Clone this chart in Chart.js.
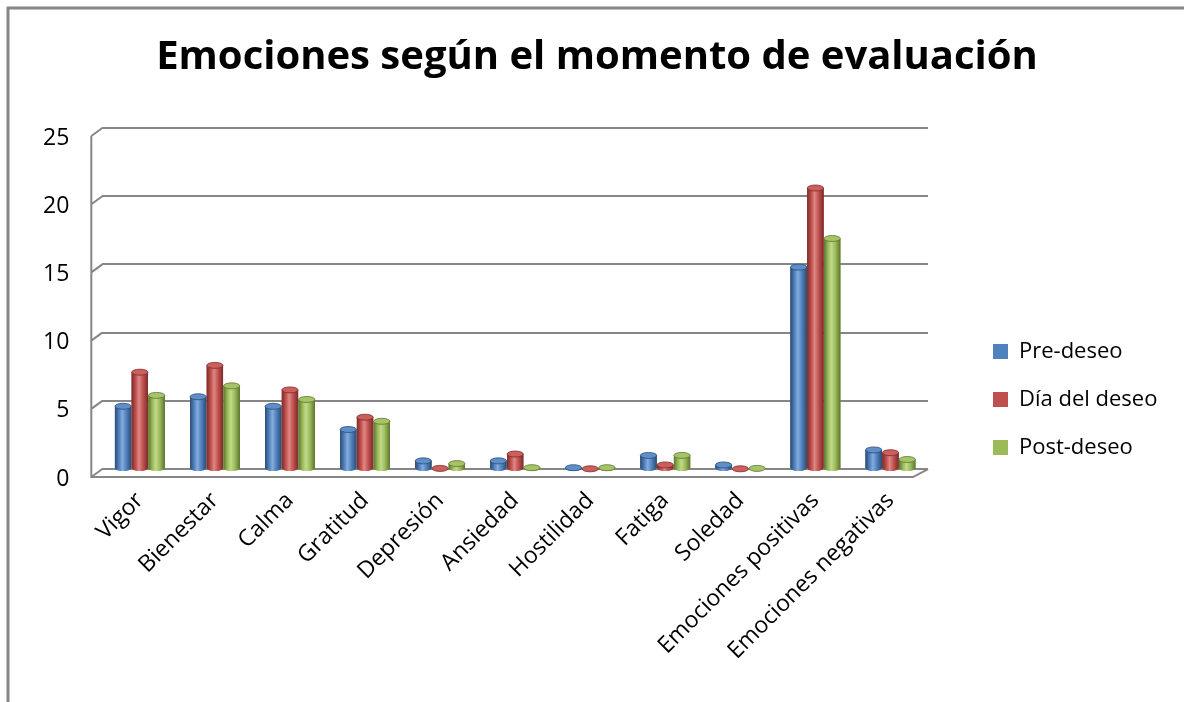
<!DOCTYPE html>
<html>
<head>
<meta charset="utf-8">
<script src="https://cdn.jsdelivr.net/npm/chart.js@4.4.3/dist/chart.umd.min.js"></script>
<style>
  html, body { margin: 0; padding: 0; background: #fff; }
  #wrap { width: 1184px; height: 702px; }
</style>
</head>
<body>
<div id="wrap"><canvas id="chart" width="1184" height="702"></canvas></div>
<script>
// chart data

const categories = ['Vigor', 'Bienestar', 'Calma', 'Gratitud', 'Depresión', 'Ansiedad',
    'Hostilidad', 'Fatiga', 'Soledad', 'Emociones positivas', 'Emociones negativas'];
const seriesNames = ['Pre-deseo', 'Día del deseo', 'Post-deseo'];
const preDeseo = [4.6, 5.3, 4.6, 2.9, 0.6, 0.6, 0.1, 1.0, 0.3, 14.8, 1.4];
const diaDeseo = [7.1, 7.6, 5.8, 3.8, 0.05, 1.1, 0.02, 0.3, 0.02, 20.6, 1.2];
const postDeseo = [5.4, 6.1, 5.1, 3.5, 0.4, 0.1, 0.1, 1.0, 0.05, 16.9, 0.7];
const yTicks = [0, 5, 10, 15, 20, 25];

// colours: base, dark edge, light highlight
const palette = [
    { base: '#4F81BD', dark: '#2B4C74', light: '#86ABDB', top: '#5F8FCB' },
    { base: '#C0504D', dark: '#7A2C2A', light: '#DE8886', top: '#CC5E5B' },
    { base: '#9BBB59', dark: '#5E7530', light: '#C0DA8E', top: '#A6C466' },
];

const GRID = '#868686';
const FONT = "'Open Sans', sans-serif";

// frame round the picture
const framePlugin = {
    id: 'frame',
    beforeDraw(chart) {
        const ctx = chart.ctx;
        ctx.save();
        ctx.strokeStyle = GRID;
        ctx.lineWidth = 3;
        ctx.beginPath();
        ctx.moveTo(8, chart.height);
        ctx.lineTo(8, 8);
        ctx.lineTo(chart.width, 8);
        ctx.stroke();
        ctx.restore();
    },
};

// left wall and floor edges, so it looks like the old 3d chart
const wallPlugin = {
    id: 'walls',
    beforeDatasetsDraw(chart) {
        const { ctx, chartArea } = chart;
        const ys = chart.scales.y;
        const dx = 11, dy = 8;
        const y0 = ys.getPixelForValue(0);
        const yTop = ys.getPixelForValue(yTicks[yTicks.length - 1]);
        ctx.save();
        ctx.strokeStyle = GRID;
        ctx.lineWidth = 2;
        ctx.beginPath();
        for (const v of yTicks) {
            const y = ys.getPixelForValue(v);
            ctx.moveTo(chartArea.left - dx, y + dy);
            ctx.lineTo(chartArea.left, y);
        }
        ctx.moveTo(chartArea.left - dx, yTop + dy);
        ctx.lineTo(chartArea.left - dx, y0 + dy);
        ctx.lineTo(chartArea.right - dx - 4, y0 + dy);
        ctx.lineTo(chartArea.right, y0);
        ctx.stroke();
        ctx.restore();
    },
};

// redraw each bar as a shaded cylinder
const cylinderPlugin = {
    id: 'cylinders',
    afterDatasetsDraw(chart) {
        const ctx = chart.ctx;
        chart.data.datasets.forEach((ds, i) => {
            const c = palette[i];
            chart.getDatasetMeta(i).data.forEach((bar) => {
                const w = bar.width;
                const left = bar.x - w / 2;
                const eh = 3;
                const g = ctx.createLinearGradient(left, 0, left + w, 0);
                g.addColorStop(0, c.dark);
                g.addColorStop(0.25, c.base);
                g.addColorStop(0.45, c.light);
                g.addColorStop(0.7, c.base);
                g.addColorStop(1, c.dark);
                ctx.save();
                ctx.fillStyle = g;
                ctx.beginPath();
                ctx.ellipse(bar.x, bar.base, w / 2, eh, 0, 0, Math.PI);
                ctx.lineTo(left, bar.y);
                ctx.lineTo(left + w, bar.y);
                ctx.closePath();
                ctx.fill();
                ctx.fillRect(left, bar.y, w, bar.base - bar.y);
                ctx.beginPath();
                ctx.ellipse(bar.x, bar.y, w / 2, eh, 0, 0, Math.PI * 2);
                ctx.fillStyle = c.top;
                ctx.fill();
                ctx.strokeStyle = c.dark;
                ctx.lineWidth = 0.8;
                ctx.stroke();
                ctx.restore();
            });
        });
    },
};

// keep the legend apart from the plot, as in the picture
const legendPlace = {
    id: 'legendPlace',
    beforeLayout(chart) {
        const lg = chart.legend;
        if (lg && !lg._patched) {
            const fit = lg.fit;
            lg.fit = function () {
                fit.call(this);
                this.width = 256;
            };
            lg._patched = true;
        }
    },
    afterLayout(chart) {
        const lg = chart.legend;
        const pad = lg.options.labels.padding;
        lg.left = 993 - pad;
        lg.top += 62;
        lg.bottom += 62;
    },
};

const datasets = [preDeseo, diaDeseo, postDeseo].map((values, i) => ({
    label: seriesNames[i],
    data: values,
    backgroundColor: palette[i].base,
    borderWidth: 0,
    categoryPercentage: 0.67,
    barPercentage: 0.97,
}));

new Chart(document.getElementById('chart'), {
    type: 'bar',
    data: { labels: categories, datasets },
    plugins: [framePlugin, wallPlugin, cylinderPlugin, legendPlace],
    options: {
        responsive: false,
        animation: false,
        layout: { padding: { left: 10, right: 0, top: 0, bottom: 27 } },
        scales: {
            x: {
                grid: { display: false },
                border: { display: false },
                ticks: {
                    color: '#000',
                    font: { family: FONT, size: 23 },
                    minRotation: 45,
                    maxRotation: 45,
                    padding: 10,
                },
            },
            y: {
                min: 0,
                max: 25,
                grid: { color: GRID, lineWidth: 2, drawTicks: false },
                border: { display: false },
                ticks: {
                    stepSize: 5,
                    color: '#000',
                    font: { family: FONT, size: 23 },
                    padding: 33,
                    labelOffset: 10,
                },
            },
        },
        plugins: {
            title: {
                display: true,
                text: 'Emociones según el momento de evaluación',
                color: '#000',
                font: { family: FONT, size: 40, weight: 'bold' },
                padding: { top: 34, bottom: 46 },
            },
            legend: {
                position: 'right',
                labels: {
                    color: '#000',
                    font: { family: FONT, size: 22 },
                    boxWidth: 15,
                    boxHeight: 15,
                    padding: 26,
                },
            },
            tooltip: { enabled: false },
        },
    },
});
</script>
</body>
</html>
